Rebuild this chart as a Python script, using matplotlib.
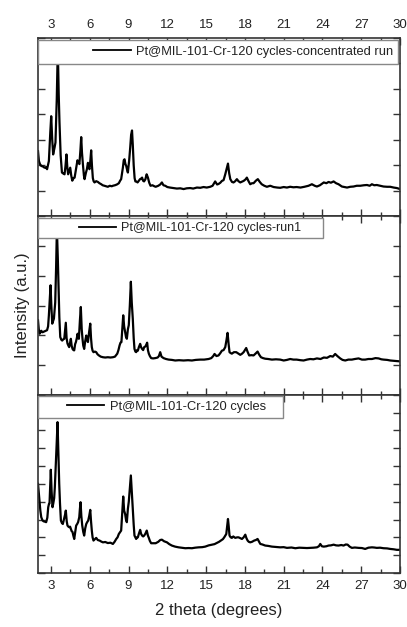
import matplotlib
matplotlib.use("Agg")
import matplotlib.pyplot as plt
from matplotlib.patches import Rectangle
from matplotlib.ticker import MultipleLocator

plt.rcParams['font.family'] = ['Liberation Sans', 'DejaVu Sans']

# Top panel: Pt@MIL-101-Cr-120 cycles-concentrated run
theta_conc = [2.0, 2.07, 2.15, 2.25, 2.4, 2.5, 2.6, 2.7, 2.84, 2.95, 3.02, 3.1, 3.17, 3.28, 3.35, 3.45,
              3.53, 3.6, 3.66, 3.75, 3.85, 3.95, 4.05, 4.12, 4.2, 4.27, 4.33, 4.42, 4.49, 4.57, 4.65,
              4.75, 4.83, 4.95, 5.05, 5.12, 5.2, 5.28, 5.34, 5.4, 5.47, 5.55, 5.6, 5.7, 5.78, 5.86,
              5.93, 5.98, 6.05, 6.11, 6.17, 6.24, 6.3, 6.37, 6.5, 6.63, 6.75, 6.89, 7.0, 7.14, 7.3,
              7.4, 7.55, 7.7, 7.79, 7.95, 8.1, 8.25, 8.35, 8.43, 8.5, 8.56, 8.63, 8.69, 8.76, 8.82,
              8.9, 8.95, 9.05, 9.13, 9.2, 9.27, 9.33, 9.4, 9.47, 9.53, 9.62, 9.7, 9.8, 9.89, 9.97,
              10.05, 10.12, 10.2, 10.3, 10.4, 10.5, 10.6, 10.7, 10.85, 11.0, 11.1, 11.3, 11.45, 11.58,
              11.7, 11.84, 12.0, 12.2, 12.45, 12.74, 13.0, 13.26, 13.5, 13.77, 14.0, 14.29, 14.55,
              14.8, 15.05, 15.32, 15.5, 15.7, 15.85, 15.96, 16.1, 16.22, 16.35, 16.48, 16.6, 16.69,
              16.78, 16.87, 17.0, 17.12, 17.25, 17.38, 17.5, 17.64, 17.78, 17.9, 18.05, 18.15, 18.28,
              18.41, 18.55, 18.67, 18.85, 19.0, 19.15, 19.3, 19.5, 19.7, 19.96, 20.22, 20.5, 20.73,
              21.0, 21.25, 21.5, 21.75, 22.0, 22.3, 22.6, 22.92, 23.18, 23.4, 23.57, 23.8, 24.1, 24.3,
              24.47, 24.65, 24.86, 25.05, 25.24, 25.5, 25.7, 25.9, 26.15, 26.4, 26.65, 26.92, 27.2,
              27.44, 27.65, 27.82, 28.0, 28.2, 28.45, 28.72, 29.0, 29.24, 29.5, 29.75, 30.0]
int_conc = [2.56, 2.17, 2.05, 1.98, 1.95, 1.91, 1.93, 1.85, 2.17, 3.3, 3.93, 3.0, 2.43, 2.7, 2.9, 4.6,
            6.6, 4.8, 3.7, 2.4, 1.72, 1.68, 1.65, 1.95, 2.43, 1.9, 1.65, 1.8, 1.91, 1.6, 1.4,
            1.5, 1.52, 1.9, 2.2, 2.12, 2.05, 2.6, 3.11, 2.5, 2.05, 1.6, 1.46, 1.7, 1.85, 2.1,
            1.9, 1.85, 2.2, 2.59, 2.0, 1.5, 1.38, 1.33, 1.38, 1.35, 1.3, 1.26, 1.22, 1.2, 1.18,
            1.16, 1.2, 1.18, 1.2, 1.22, 1.25, 1.3, 1.4, 1.46, 1.7, 1.9, 2.2, 2.24, 2.05, 1.98,
            1.8, 1.72, 2.2, 2.7, 3.2, 3.37, 2.8, 2.0, 1.5, 1.37, 1.36, 1.33, 1.4, 1.46, 1.48,
            1.52, 1.4, 1.37, 1.45, 1.65, 1.52, 1.32, 1.2, 1.22, 1.18, 1.16, 1.2, 1.25, 1.33,
            1.22, 1.2, 1.15, 1.13, 1.11, 1.09, 1.1, 1.07, 1.1, 1.11, 1.09, 1.13, 1.12,
            1.15, 1.13, 1.16, 1.2, 1.37, 1.25, 1.27, 1.32, 1.39, 1.42, 1.65, 1.9, 2.07,
            1.7, 1.46, 1.35, 1.33, 1.38, 1.46, 1.38, 1.33, 1.36, 1.39, 1.45, 1.52, 1.38,
            1.26, 1.3, 1.3, 1.4, 1.46, 1.35, 1.26, 1.2, 1.16, 1.2, 1.15, 1.13, 1.12,
            1.15, 1.13, 1.16, 1.14, 1.15, 1.13, 1.16, 1.2, 1.26, 1.2, 1.17, 1.22, 1.33, 1.3,
            1.35, 1.32, 1.37, 1.3, 1.26, 1.17, 1.15, 1.13, 1.16, 1.17, 1.2, 1.2, 1.22,
            1.23, 1.2, 1.26, 1.22, 1.23, 1.2, 1.17, 1.16, 1.16, 1.13, 1.11, 1.07]

# Middle panel: Pt@MIL-101-Cr-120 cycles-run1
theta_run1 = [2.0, 2.06, 2.12, 2.2, 2.25, 2.35, 2.5, 2.6, 2.7, 2.78, 2.84, 2.92, 2.97, 3.03, 3.1, 3.18,
              3.23, 3.33, 3.4, 3.46, 3.53, 3.59, 3.65, 3.72, 3.8, 3.87, 3.95, 4.03, 4.1, 4.15, 4.21,
              4.28, 4.35, 4.41, 4.48, 4.54, 4.6, 4.67, 4.74, 4.8, 4.87, 4.93, 5.0, 5.06, 5.12, 5.16,
              5.24, 5.31, 5.38, 5.44, 5.5, 5.57, 5.65, 5.73, 5.8, 5.86, 5.95, 6.04, 6.1, 6.16, 6.22,
              6.29, 6.4, 6.5, 6.6, 6.71, 6.85, 7.02, 7.2, 7.4, 7.6, 7.79, 7.95, 8.13, 8.22, 8.31,
              8.38, 8.45, 8.52, 8.59, 8.66, 8.74, 8.8, 8.87, 8.95, 9.02, 9.1, 9.18, 9.25, 9.33, 9.4,
              9.46, 9.53, 9.59, 9.66, 9.72, 9.8, 9.9, 9.97, 10.05, 10.13, 10.21, 10.3, 10.37, 10.44,
              10.5, 10.57, 10.65, 10.75, 10.9, 11.07, 11.25, 11.35, 11.45, 11.55, 11.71, 11.9, 12.1,
              12.35, 12.61, 12.9, 13.26, 13.6, 13.9, 14.2, 14.55, 14.85, 15.19, 15.4, 15.55, 15.65,
              15.8, 15.96, 16.1, 16.22, 16.35, 16.48, 16.58, 16.66, 16.74, 16.81, 16.9, 16.99, 17.15,
              17.33, 17.5, 17.64, 17.78, 17.9, 18.0, 18.1, 18.2, 18.33, 18.5, 18.67, 18.82, 18.98,
              19.1, 19.24, 19.4, 19.57, 19.8, 20.09, 20.4, 20.73, 21.0, 21.25, 21.5, 21.75, 22.0,
              22.3, 22.54, 22.8, 23.05, 23.3, 23.57, 23.85, 24.1, 24.35, 24.6, 24.8, 24.98, 25.15,
              25.37, 25.55, 25.76, 26.0, 26.27, 26.5, 26.79, 27.05, 27.3, 27.55, 27.82, 28.1, 28.34,
              28.55, 28.72, 29.0, 29.24, 29.5, 29.75, 30.0]
int_run1 = [2.5, 2.2, 2.05, 2.1, 2.15, 2.1, 2.13, 2.15, 2.17, 2.3, 2.67, 3.3, 3.68, 3.0, 2.39, 2.5,
            2.56, 3.1, 4.3, 5.6, 4.6, 3.6, 2.6, 1.94, 1.85, 1.82, 1.86, 1.88, 2.2, 2.42, 1.9,
            1.72, 1.65, 1.6, 1.75, 1.88, 1.65, 1.54, 1.5, 1.49, 1.7, 1.77, 1.9, 2.05, 1.9, 1.88,
            2.5, 2.95, 2.2, 1.88, 1.65, 1.54, 1.8, 1.99, 1.85, 1.77, 2.1, 2.39, 1.9, 1.6, 1.48,
            1.43, 1.45, 1.43, 1.36, 1.32, 1.28, 1.26, 1.25, 1.26, 1.25, 1.26, 1.28, 1.38, 1.5, 1.66,
            1.75, 1.77, 2.2, 2.67, 2.3, 2.11, 1.95, 1.88, 2.2, 2.34, 3.0, 3.8, 3.1, 2.55, 1.9,
            1.54, 1.45, 1.43, 1.5, 1.48, 1.6, 1.71, 1.6, 1.54, 1.5, 1.6, 1.62, 1.68, 1.75,
            1.5, 1.38, 1.3, 1.23, 1.22, 1.23, 1.25, 1.3, 1.43, 1.28, 1.23, 1.2, 1.18,
            1.17, 1.15, 1.16, 1.15, 1.16, 1.15, 1.17, 1.18, 1.18, 1.2, 1.23, 1.3, 1.37,
            1.3, 1.32, 1.4, 1.48, 1.5, 1.6, 1.85, 2.08, 1.7, 1.43, 1.4, 1.38, 1.43,
            1.43, 1.38, 1.34, 1.38, 1.43, 1.5, 1.57, 1.45, 1.32, 1.33, 1.32, 1.38, 1.45,
            1.35, 1.26, 1.23, 1.21, 1.2, 1.18, 1.19, 1.18, 1.15, 1.17, 1.2, 1.18, 1.18,
            1.16, 1.15, 1.18, 1.2, 1.19, 1.22, 1.2, 1.25, 1.24, 1.3, 1.28, 1.37, 1.3,
            1.22, 1.17, 1.15, 1.18, 1.18, 1.2, 1.22, 1.18, 1.18, 1.2, 1.2, 1.23, 1.22,
            1.19, 1.18, 1.17, 1.15, 1.14, 1.13, 1.12]

# Bottom panel: Pt@MIL-101-Cr-120 cycles
theta_cyc = [2.0, 2.06, 2.12, 2.18, 2.25, 2.35, 2.43, 2.53, 2.63, 2.72, 2.79, 2.85, 2.89, 2.95, 2.99,
             3.05, 3.12, 3.18, 3.25, 3.3, 3.36, 3.44, 3.51, 3.58, 3.64, 3.7, 3.77, 3.85, 3.92, 3.97,
             4.03, 4.1, 4.15, 4.22, 4.28, 4.35, 4.41, 4.48, 4.54, 4.6, 4.67, 4.73, 4.8, 4.88, 4.95,
             5.03, 5.1, 5.19, 5.24, 5.29, 5.35, 5.42, 5.5, 5.57, 5.65, 5.73, 5.8, 5.88, 5.96, 6.04,
             6.1, 6.16, 6.22, 6.29, 6.4, 6.5, 6.62, 6.76, 6.9, 7.02, 7.2, 7.4, 7.6, 7.79, 7.92, 8.05,
             8.15, 8.25, 8.35, 8.43, 8.52, 8.59, 8.66, 8.74, 8.8, 8.87, 8.95, 9.02, 9.1, 9.18, 9.25,
             9.33, 9.4, 9.46, 9.53, 9.59, 9.66, 9.72, 9.8, 9.9, 9.97, 10.05, 10.13, 10.21, 10.3,
             10.41, 10.5, 10.57, 10.65, 10.75, 10.9, 11.1, 11.3, 11.45, 11.58, 11.75, 11.97, 12.15,
             12.35, 12.6, 12.87, 13.1, 13.39, 13.65, 13.9, 14.15, 14.42, 14.7, 14.93, 15.2, 15.45,
             15.65, 15.84, 16.0, 16.14, 16.3, 16.4, 16.56, 16.62, 16.69, 16.75, 16.81, 16.9, 16.99,
             17.1, 17.25, 17.4, 17.51, 17.65, 17.77, 17.9, 18.03, 18.12, 18.21, 18.3, 18.41, 18.55,
             18.72, 18.85, 18.98, 19.1, 19.19, 19.35, 19.57, 19.8, 20.09, 20.4, 20.73, 21.0, 21.25,
             21.6, 21.9, 22.2, 22.54, 22.8, 23.05, 23.3, 23.57, 23.72, 23.83, 23.95, 24.1, 24.3,
             24.47, 24.65, 24.86, 25.05, 25.24, 25.45, 25.63, 25.8, 25.94, 26.1, 26.27, 26.5, 26.79,
             27.05, 27.3, 27.55, 27.82, 28.0, 28.2, 28.45, 28.72, 29.0, 29.24, 29.5, 29.75, 30.0]
int_cyc = [5.0, 4.5, 3.97, 3.5, 3.13, 2.95, 2.9, 2.88, 2.85, 3.1, 3.69, 3.88, 3.9, 5.0, 5.79,
           4.6, 3.69, 3.9, 4.2, 4.8, 5.8, 7.2, 8.46, 6.5, 5.0, 3.9, 2.94, 2.8, 2.75, 2.9,
           3.1, 3.3, 3.5, 2.9, 2.66, 2.6, 2.57, 2.6, 2.48, 2.35, 2.3, 2.1, 1.91, 2.3, 2.66,
           2.75, 2.85, 3.13, 3.6, 3.97, 3.2, 2.66, 2.3, 2.1, 2.5, 2.75, 2.85, 2.94, 3.2, 3.54,
           2.9, 2.38, 2.0, 1.82, 1.9, 1.97, 1.85, 1.82, 1.76, 1.72, 1.74, 1.68, 1.7, 1.63, 1.75, 1.91,
           2.0, 2.19, 2.3, 2.38, 3.4, 4.29, 3.5, 3.3, 3.0, 2.85, 3.6, 4.0, 4.7, 5.47, 4.6,
           3.69, 2.7, 2.1, 2.0, 1.91, 2.0, 2.0, 2.2, 2.42, 2.2, 2.1, 2.05, 2.1, 2.2,
           2.38, 2.1, 1.97, 1.8, 1.67, 1.67, 1.67, 1.75, 1.85, 1.87, 1.78, 1.72, 1.62,
           1.54, 1.48, 1.44, 1.42, 1.39, 1.4, 1.39, 1.42, 1.44, 1.45, 1.48, 1.55, 1.59,
           1.62, 1.69, 1.75, 1.82, 1.9, 2.0, 2.19, 2.6, 3.03, 2.6, 2.1, 2.0, 1.97,
           2.05, 1.97, 2.0, 2.0, 1.95, 1.91, 2.0, 2.15, 1.95, 1.82, 1.75, 1.72, 1.75,
           1.82, 1.85, 1.91, 1.75, 1.63, 1.6, 1.54, 1.52, 1.48, 1.46, 1.44, 1.45, 1.41,
           1.43, 1.39, 1.42, 1.41, 1.4, 1.41, 1.42, 1.44, 1.5, 1.63, 1.5, 1.48, 1.5,
           1.54, 1.55, 1.59, 1.55, 1.54, 1.57, 1.54, 1.6, 1.59, 1.48, 1.41, 1.43, 1.41,
           1.4, 1.35, 1.42, 1.44, 1.43, 1.41, 1.42, 1.39, 1.38, 1.35, 1.33, 1.3, 1.3]

labels = ["Pt@MIL-101-Cr-120 cycles-concentrated run",
          "Pt@MIL-101-Cr-120 cycles-run1",
          "Pt@MIL-101-Cr-120 cycles"]
series = [(theta_conc, int_conc), (theta_run1, int_run1), (theta_cyc, int_cyc)]
y_limits = [7, 6, 10]

# legend box (width, height), legend line start (axes fractions) and font size
legend_boxes = [(0.994, 0.135, 0.152, 9.3), (0.787, 0.112, 0.114, 9.0), (0.677, 0.118, 0.08, 9.3)]

fig, axes = plt.subplots(3, 1, figsize=(4.07, 6.27), dpi=100, sharex=True)
fig.subplots_adjust(left=0.0934, right=0.983, bottom=0.0861, top=0.9394, hspace=0)

for ax, (x, y), lab, ytop, (bw, bh, lx, fs) in zip(axes, series, labels, y_limits, legend_boxes):
    ax.plot(x, y, color='black', lw=1.6, label=lab)
    ax.set_xlim(2, 30)
    ax.set_ylim(0, ytop)
    ax.xaxis.set_major_locator(MultipleLocator(3))
    ax.xaxis.set_minor_locator(MultipleLocator(1.5))
    ax.yaxis.set_major_locator(MultipleLocator(1))
    ax.tick_params(axis='both', which='both', direction='in', top=True, right=True,
                   labelleft=False, labelbottom=False, colors='#333333', width=1.0)
    ax.tick_params(which='major', length=5)
    ax.tick_params(which='minor', length=3)
    ax.tick_params(axis='x', labelsize=9.5, labelcolor='#222222', pad=5)
    for sp in ax.spines.values():
        sp.set_linewidth(1.2)
        sp.set_color('#333333')
    ax.add_patch(Rectangle((0, 1 - bh - 0.01), bw, bh, transform=ax.transAxes,
                           facecolor='white', edgecolor='#888888', lw=1.0, zorder=3))
    leg = ax.legend(loc='center left', bbox_to_anchor=(lx, 1 - bh / 2 - 0.01), frameon=False,
                    borderpad=0, borderaxespad=0, handlelength=2.9, handletextpad=0.45,
                    fontsize=fs)
    leg.set_zorder(4)
    for t in leg.get_texts():
        t.set_color('#222222')
    for h in leg.get_lines():
        h.set_linewidth(1.3)

axes[0].tick_params(axis='x', labeltop=True)
axes[2].tick_params(axis='x', labelbottom=True)
axes[2].set_xlabel("2 theta (degrees)", fontsize=12, color='#222222', labelpad=8)
axes[1].set_ylabel("Intensity (a.u.)", fontsize=12, color='#222222', labelpad=6)

fig.savefig("out.png", dpi=100)
